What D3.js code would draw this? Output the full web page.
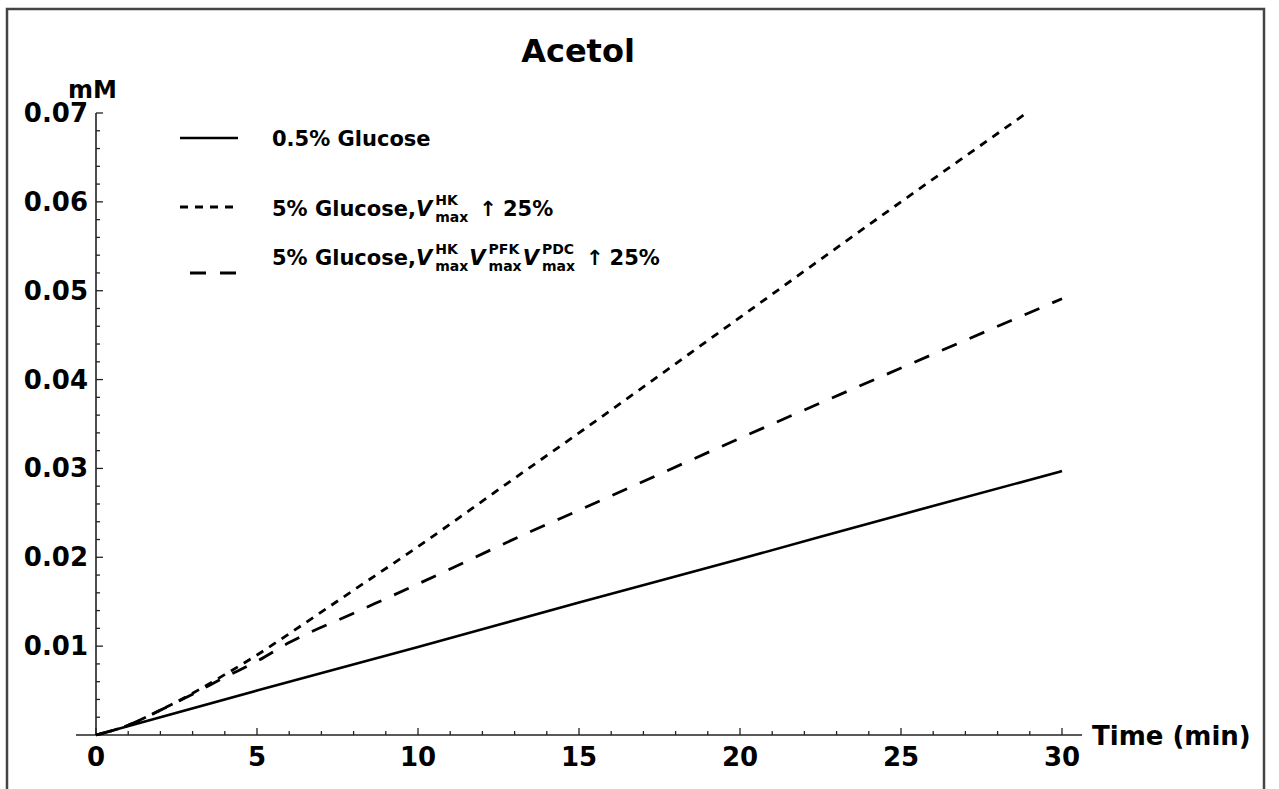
<!DOCTYPE html>
<html><head><meta charset="utf-8">
<script src="https://cdn.jsdelivr.net/npm/d3@7"></script>
<style>body{margin:0;background:#fff}svg{display:block}text{font-family:"DejaVu Sans",sans-serif;font-weight:bold;fill:#000;white-space:pre}</style>
</head><body>
<script>
const title = "Acetol";
const yLabel = "mM";
const xLabel = "Time (min)";
const xTicks = [0,5,10,15,20,25,30];
const yTicks = [0.01,0.02,0.03,0.04,0.05,0.06,0.07];
const yTickLabels = ["0.01","0.02","0.03","0.04","0.05","0.06","0.07"];
const seriesNames = ["0.5% Glucose","5% Glucose, Vmax HK ↑ 25%","5% Glucose, Vmax HK PFK PDC ↑ 25%"];
const solidT = [0,5,10,15,20,25,30];
const solidV = [0,0.0050,0.0099,0.0149,0.0198,0.0248,0.0297];
const shortT = [0,1,2,3,4,5,6,8,10,13,15,20,25,28.9];
const shortV = [0,0.0011,0.0028,0.0047,0.0068,0.0090,0.0114,0.0163,0.0212,0.0289,0.0340,0.0470,0.0600,0.0700];
const longT = [0,1,2,3,4,5,6,8,10,13.5,15,20,25,30];
const longV = [0,0.0011,0.0028,0.0046,0.0065,0.0083,0.0104,0.0137,0.0170,0.0229,0.0253,0.0334,0.0413,0.0491];

const W=1279,H=789;
const svg=d3.select("body").append("svg").attr("width",W).attr("height",H);
svg.append("path").attr("d",`M7,${H} V9 H1264 V${H}`).attr("fill","none").attr("stroke","#444").attr("stroke-width",2.5);

const x=d3.scaleLinear().domain([0,30]).range([96,1062]);
const y=d3.scaleLinear().domain([0,0.07]).range([735,113]);

svg.append("line").attr("x1",76).attr("x2",1082).attr("y1",y(0)).attr("y2",y(0)).attr("stroke","#222").attr("stroke-width",1.6);
svg.append("line").attr("x1",x(0)).attr("x2",x(0)).attr("y1",y(0.07)).attr("y2",y(0)).attr("stroke","#222").attr("stroke-width",1.6);

const xMinor=d3.range(0,31,1);
svg.append("g").selectAll("line").data(xMinor).join("line")
 .attr("x1",d=>x(d)).attr("x2",d=>x(d)).attr("y1",y(0)).attr("y2",d=>y(0)-(d%5===0?7:4))
 .attr("stroke","#222").attr("stroke-width",1.3);
svg.append("g").selectAll("text").data(xTicks).join("text")
 .attr("x",d=>x(d)).attr("y",766).attr("text-anchor","middle").attr("font-size",26).text(d=>d);
const yMinor=d3.range(1,36).map(i=>i*0.002);
svg.append("g").selectAll("line").data(yMinor).join("line")
 .attr("x1",x(0)).attr("x2",(d,i)=>x(0)+((i+1)%5===0?7:4)).attr("y1",d=>y(d)).attr("y2",d=>y(d))
 .attr("stroke","#222").attr("stroke-width",1.3);
svg.append("g").selectAll("text").data(yTicks).join("text")
 .attr("x",88).attr("y",d=>y(d)+9).attr("text-anchor","end").attr("font-size",26).text((d,i)=>yTickLabels[i]);

svg.append("text").attr("x",578).attr("y",62).attr("text-anchor","middle").attr("font-size",32).text(title);
svg.append("text").attr("x",68).attr("y",98).attr("font-size",24).text(yLabel);
svg.append("text").attr("x",1092).attr("y",745).attr("font-size",26).text(xLabel);

const line=d3.line().x(d=>x(d[0])).y(d=>y(d[1])).curve(d3.curveMonotoneX);
const zip=(a,b)=>a.map((t,i)=>[t,b[i]]);
svg.append("path").attr("d",line(zip(solidT,solidV))).attr("fill","none").attr("stroke","#000").attr("stroke-width",2.6);
svg.append("path").attr("d",line(zip(shortT,shortV))).attr("fill","none").attr("stroke","#000").attr("stroke-width",2.8).attr("stroke-dasharray","8,7");
svg.append("path").attr("d",line(zip(longT,longV))).attr("fill","none").attr("stroke","#000").attr("stroke-width",2.8).attr("stroke-dasharray","16,14");

const lg=svg.append("g");
lg.append("line").attr("x1",180).attr("x2",238).attr("y1",138).attr("y2",138).attr("stroke","#000").attr("stroke-width",2.6);
lg.append("line").attr("x1",180).attr("x2",233).attr("y1",207).attr("y2",207).attr("stroke","#000").attr("stroke-width",2.8).attr("stroke-dasharray","8,7");
lg.append("line").attr("x1",190).attr("x2",236).attr("y1",273).attr("y2",273).attr("stroke","#000").attr("stroke-width",2.8).attr("stroke-dasharray","16,14");

function rich(parts,x0,base){
  let cx=x0;
  for(const p of parts){
    if(p.stack){
      const a=lg.append("text").attr("x",cx).attr("y",base-11).attr("font-size",14).text(p.sup);
      const b=lg.append("text").attr("x",cx).attr("y",base+6).attr("font-size",14).text(p.sub);
      cx+=Math.max(a.node().getComputedTextLength(),b.node().getComputedTextLength())+1;
    } else {
      const t=lg.append("text").attr("x",cx+(p.pre||0)).attr("y",base).attr("font-size",21).text(p.t);
      if(p.it) t.attr("font-style","italic");
      if(p.normal) t.attr("font-weight","normal");
      cx+=(p.pre||0)+t.node().getComputedTextLength()+(p.after||0);
    }
  }
}
rich([{t:seriesNames[0]}],272,146);
rich([{t:"5% Glucose,"},{t:"V",it:true,after:3},{stack:true,sup:"HK",sub:"max"},{t:"↑",normal:true,pre:10,after:6},{t:"25%"}],272,216);
rich([{t:"5% Glucose,"},{t:"V",it:true,after:3},{stack:true,sup:"HK",sub:"max"},{t:"V",it:true,after:3},{stack:true,sup:"PFK",sub:"max"},{t:"V",it:true,after:3},{stack:true,sup:"PDC",sub:"max"},{t:"↑",normal:true,pre:10,after:6},{t:"25%"}],272,265);
</script>
</body></html>
